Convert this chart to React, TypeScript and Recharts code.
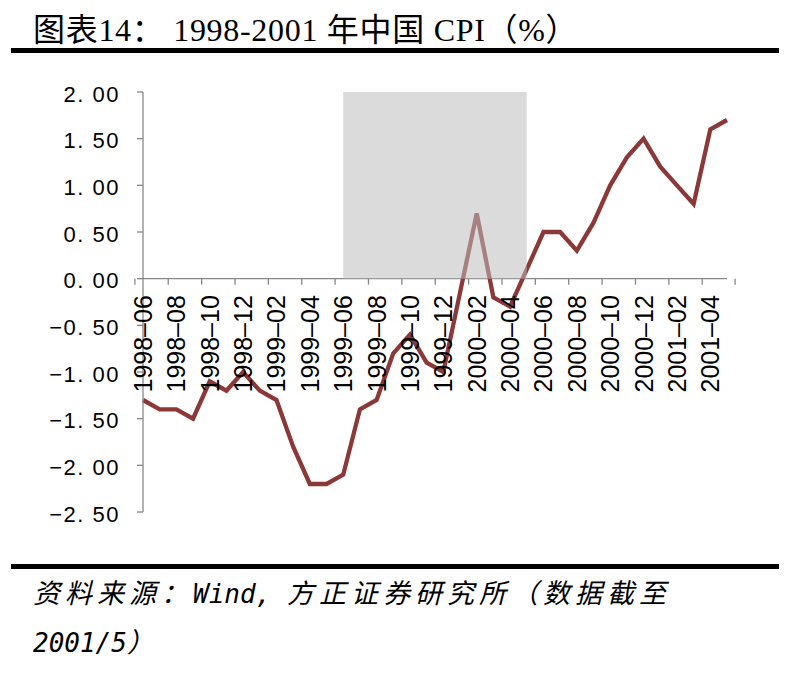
import React from 'react';
import { LineChart, Line, XAxis, YAxis, ReferenceLine, ReferenceArea } from 'recharts';

const months = [
  '1998-06','1998-07','1998-08','1998-09','1998-10','1998-11','1998-12',
  '1999-01','1999-02','1999-03','1999-04','1999-05','1999-06','1999-07','1999-08','1999-09','1999-10','1999-11','1999-12',
  '2000-01','2000-02','2000-03','2000-04','2000-05','2000-06','2000-07','2000-08','2000-09','2000-10','2000-11','2000-12',
  '2001-01','2001-02','2001-03','2001-04','2001-05',
];
const cpi = [
  -1.3,-1.4,-1.4,-1.5,-1.1,-1.2,-1.0,
  -1.2,-1.3,-1.8,-2.2,-2.2,-2.1,-1.4,-1.3,-0.8,-0.6,-0.9,-1.0,
  -0.15,0.7,-0.2,-0.3,0.1,0.5,0.5,0.3,0.6,1.0,1.3,1.5,
  1.2,1.0,0.8,1.6,1.7,
];
const yTicks = [-2.5,-2.0,-1.5,-1.0,-0.5,0,0.5,1.0,1.5,2.0];
const shadeStart = '1999-06';
const shadeEnd = '2000-05';
const shadeTop = 2.0;

const data = months.map((m, i) => ({ month: m, cpi: cpi[i] }));

const W = 795;
const H = 675;
const PLOT_LEFT = 143;
const PLOT_RIGHT = 727;
const PLOT_TOP = 92;
const PLOT_BOTTOM = 512;
const Y_MIN = -2.5;
const Y_MAX = 2.0;
const Y_ZERO = PLOT_TOP + (PLOT_BOTTOM - PLOT_TOP) * (Y_MAX - 0) / (Y_MAX - Y_MIN);
const AXIS_COLOR = '#878787';
const LINE_COLOR = '#8C3838';
const SANS = "'Liberation Sans', Arial, sans-serif";

const fmtY = (v: number) => {
  const s = Math.abs(v).toFixed(2).replace('.', '. ');
  return v < 0 ? '\u2212' + s : s;
};

const XTick = (props: any) => {
  const { x, payload } = props;
  const i = months.indexOf(payload.value);
  const bw = (PLOT_RIGHT - PLOT_LEFT) / months.length;
  const parts: any[] = [];
  if (i % 2 === 0) {
    parts.push(
      <line key="t" x1={x - bw / 2} x2={x - bw / 2} y1={Y_ZERO} y2={Y_ZERO + 6} stroke={AXIS_COLOR} strokeWidth={1.3} />
    );
    const lx = x + 9;
    const ly = Y_ZERO + 16.5;
    parts.push(
      <text key="l" x={lx} y={ly} transform={`rotate(-90 ${lx} ${ly})`} textAnchor="end" style={{ fontSize: 25, fontFamily: SANS }} fill="#000">
        {payload.value.replace('-', '\u2013')}
      </text>
    );
  }
  if (i === months.length - 1) {
    parts.push(
      <line key="e" x1={x + bw / 2} x2={x + bw / 2} y1={Y_ZERO} y2={Y_ZERO + 6} stroke={AXIS_COLOR} strokeWidth={1.3} />
    );
  }
  return <g>{parts}</g>;
};

export default function App() {
  const xAxisH = 1;
  const yAxisW = 80;
  return (
    <div style={{ position: 'absolute', left: 0, top: 0, width: W, height: H, background: '#fff' }}>
      <LineChart
        width={W}
        height={H}
        data={data}
        margin={{ top: PLOT_TOP, right: W - PLOT_RIGHT, bottom: H - PLOT_BOTTOM - xAxisH, left: PLOT_LEFT - yAxisW }}
      >
        <XAxis dataKey="month" height={xAxisH} interval={0} axisLine={false} tickLine={false} tick={<XTick />} />
        <YAxis
          domain={[Y_MIN, Y_MAX]}
          ticks={yTicks}
          width={yAxisW}
          interval={0}
          axisLine={{ stroke: AXIS_COLOR, strokeWidth: 1.3 }}
          tickLine={{ stroke: AXIS_COLOR, strokeWidth: 1.3 }}
          tickSize={6}
          tickMargin={17}
          tickFormatter={fmtY}
          tick={{ fontSize: 22, fill: '#000', fontFamily: SANS, letterSpacing: 1.5, dy: 2 }}
        />
        <ReferenceLine y={0} stroke={AXIS_COLOR} strokeWidth={1.3} />
        <Line type="linear" dataKey="cpi" stroke={LINE_COLOR} strokeWidth={4.3} dot={false} isAnimationActive={false} />
        <ReferenceArea
          x1={shadeStart}
          x2={shadeEnd}
          y1={0}
          y2={shadeTop}
          fill="#BDBDBD"
          fillOpacity={0.55}
          stroke="none"
          zIndex={450}
          ifOverflow="visible"
        />
      </LineChart>
      <svg width={W} height={H} style={{ position: 'absolute', left: 0, top: 0, pointerEvents: 'none' }}>
        <text x={33} y={41} fontSize={32} letterSpacing={0.7} fill="#000" fontFamily="'Liberation Serif', 'Noto Sans CJK SC', serif">
          图表14：  1998-2001 年中国 CPI（%）
        </text>
        <rect x={11} y={48} width={768} height={5} fill="#000" />
        <rect x={11} y={564} width={768} height={5} fill="#000" />
        <text x={33} y={603} fontStyle="italic" fill="#000">
          <tspan fontSize={27} letterSpacing={5} fontFamily="'Noto Sans CJK SC', sans-serif">资料来源：</tspan>
          <tspan fontSize={26} fontFamily="'DejaVu Sans Mono', monospace">Wind, </tspan>
          <tspan fontSize={27} letterSpacing={5} fontFamily="'Noto Sans CJK SC', sans-serif">方正证券研究所（数据截至</tspan>
        </text>
        <text x={33} y={652} fontStyle="italic" fill="#000">
          <tspan fontSize={26} fontFamily="'DejaVu Sans Mono', monospace">2001/5</tspan>
          <tspan fontSize={27} fontFamily="'Noto Sans CJK SC', sans-serif">）</tspan>
        </text>
      </svg>
    </div>
  );
}
